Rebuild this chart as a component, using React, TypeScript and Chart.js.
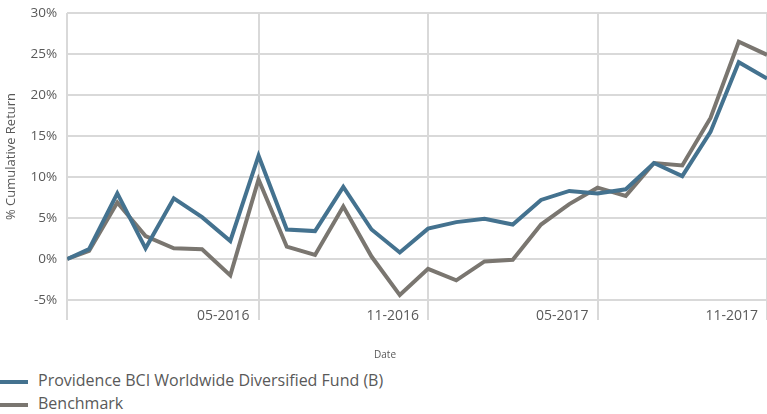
import React, { useEffect, useRef } from "react";
import { Chart, registerables } from "chart.js";

Chart.register(...registerables);

// Observation dates (first one is the fund's start, then month starts)
const dates: string[] = [
  "2015-10-08", "2015-11-01", "2015-12-01", "2016-01-01", "2016-02-01", "2016-03-01",
  "2016-04-01", "2016-05-01", "2016-06-01", "2016-07-01", "2016-08-01", "2016-09-01",
  "2016-10-01", "2016-11-01", "2016-12-01", "2017-01-01", "2017-02-01", "2017-03-01",
  "2017-04-01", "2017-05-01", "2017-06-01", "2017-07-01", "2017-08-01", "2017-09-01",
  "2017-10-01", "2017-11-01",
];

const fundValues: number[] = [
  0, 1.2, 8.0, 1.3, 7.4, 5.1, 2.2, 12.6, 3.6, 3.4, 8.8, 3.6, 0.8,
  3.7, 4.5, 4.9, 4.2, 7.2, 8.3, 8.0, 8.5, 11.7, 10.1, 15.5, 24.0, 22.0,
];

const benchmarkValues: number[] = [
  0, 1.0, 6.9, 2.8, 1.3, 1.2, -2.0, 9.7, 1.5, 0.5, 6.4, 0.3, -4.4,
  -1.2, -2.6, -0.3, -0.1, 4.2, 6.7, 8.7, 7.7, 11.7, 11.4, 17.2, 26.5, 24.9,
];

const xTickDates: string[] = ["2016-05-01", "2016-11-01", "2017-05-01", "2017-11-01"];
const xTickLabels: string[] = ["05-2016", "11-2016", "05-2017", "11-2017"];

const seriesNames: string[] = ["Providence BCI Worldwide Diversified Fund (B)", "Benchmark"];
const seriesColors: string[] = ["#44728f", "#7a7670"];

const FONT = "'Open Sans', sans-serif";
const TEXT = "#595959";
const GRID = "#d9d9d9";

// convert a date to a fractional month index (11-2015 = 0)
function monthIndex(s: string): number {
  const [y, m, d] = s.split("-").map(Number);
  const dim = new Date(Date.UTC(y, m, 0)).getUTCDate();
  return (y - 2015) * 12 + (m - 11) + (d - 1) / dim;
}

export default function App() {
  const ref = useRef<HTMLCanvasElement | null>(null);

  useEffect(() => {
    if (!ref.current) return;
    const xs = dates.map(monthIndex);
    const labelVals = xTickDates.map(monthIndex);
    const tickVals = [xs[0], ...labelVals];
    const chart = new Chart(ref.current, {
      type: "line",
      data: {
        datasets: [
          {
            label: seriesNames[0],
            data: fundValues.map((v, i) => ({ x: xs[i], y: v })),
            borderColor: seriesColors[0],
            backgroundColor: seriesColors[0],
            borderWidth: 4,
            pointRadius: 0,
            pointHoverRadius: 0,
            tension: 0,
            borderJoinStyle: "miter",
          },
          {
            label: seriesNames[1],
            data: benchmarkValues.map((v, i) => ({ x: xs[i], y: v })),
            borderColor: seriesColors[1],
            backgroundColor: seriesColors[1],
            borderWidth: 4,
            pointRadius: 0,
            pointHoverRadius: 0,
            tension: 0,
            borderJoinStyle: "miter",
            order: 1,
          },
        ],
      },
      options: {
        animation: false,
        responsive: true,
        maintainAspectRatio: false,
        layout: { autoPadding: false, padding: { top: 0, left: 3, right: 0, bottom: 0 } },
        plugins: {
          legend: { display: false },
          tooltip: { enabled: false },
          title: {
            display: true,
            text: "Date",
            position: "bottom",
            weight: 500,
            color: TEXT,
            font: { family: FONT, size: 10, weight: "normal" },
            padding: { top: 19, bottom: 7 },
          } as any,
        },
        scales: {
          x: {
            type: "linear",
            min: xs[0],
            max: xs[xs.length - 1],
            afterBuildTicks: (scale: any) => {
              scale.ticks = tickVals.map((v) => ({ value: v }));
            },
            afterFit: (scale: any) => {
              scale.height = 30;
            },
            grid: {
              color: GRID,
              lineWidth: 2,
              drawTicks: true,
              tickLength: 20,
              tickColor: GRID,
              tickWidth: 2,
            },
            border: { display: false },
            ticks: {
              autoSkip: false,
              maxRotation: 0,
              minRotation: 0,
              align: "end",
              labelOffset: -9,
              padding: -12,
              color: TEXT,
              font: { family: FONT, size: 14 },
              callback: (value: any) => {
                const i = labelVals.findIndex((v) => Math.abs(v - Number(value)) < 1e-6);
                return i >= 0 ? xTickLabels[i] : "";
              },
            },
          },
          y: {
            min: -5,
            max: 30,
            afterFit: (scale: any) => {
              scale.paddingTop = 13;
              scale.paddingBottom = 0;
            },
            grid: { color: GRID, lineWidth: 2, drawTicks: false },
            border: { display: false },
            ticks: {
              stepSize: 5,
              padding: 10,
              color: TEXT,
              font: { family: FONT, size: 13.5 },
              callback: (v: any) => `${v}%`,
            },
            title: {
              display: true,
              text: "% Cumulative Return",
              color: TEXT,
              font: { family: FONT, size: 13 },
              padding: { top: 0, bottom: 2 },
            },
          },
        },
      },
    });
    return () => chart.destroy();
  }, []);

  return (
    <div style={{ width: 767, fontFamily: FONT }}>
      <style>{"body{margin:0}"}</style>
      <div style={{ position: "relative", width: 767, height: 368 }}>
        <canvas ref={ref} />
      </div>
      <div style={{ color: TEXT, fontSize: 16 }}>
        {seriesNames.map((name, i) => (
          <div key={name} style={{ display: "flex", alignItems: "center", height: 23 }}>
            <span
              style={{
                display: "inline-block",
                width: 28,
                height: 4,
                background: seriesColors[i],
                marginTop: 4,
                marginRight: 10,
                flex: "none",
              }}
            />
            <span>{name}</span>
          </div>
        ))}
      </div>
    </div>
  );
}
